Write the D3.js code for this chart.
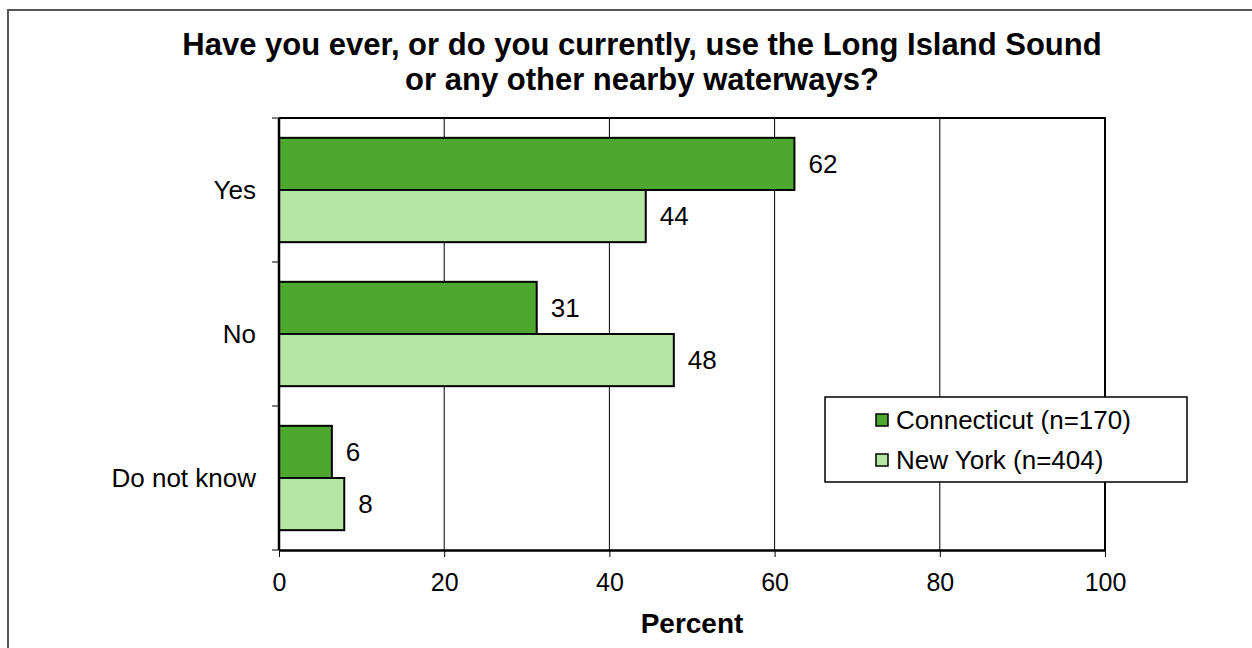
<!DOCTYPE html>
<html>
<head>
<meta charset="utf-8">
<script src="https://cdn.jsdelivr.net/npm/d3@7"></script>
<style>
  body { margin: 0; background: #fff; }
  text { font-family: "Liberation Sans", Arial, sans-serif; fill: #000; }
</style>
</head>
<body>
<div id="chart-area"></div>
<script>
const WIDTH = 1252;
const HEIGHT = 648;

// data
const categories = ["Yes", "No", "Do not know"];
const seriesNames = ["Connecticut (n=170)", "New York (n=404)"];
const connecticut = [62.4, 31.2, 6.4];
const newYork = [44.4, 47.8, 7.9];
const valueLabels = [["62", "31", "6"], ["44", "48", "8"]];
const xTicks = [0, 20, 40, 60, 80, 100];
const colors = ["#4ea72e", "#b4e5a3"];

const plot = { left: 279, right: 1105, top: 118, bottom: 550 };

let svg = d3.select("#chart-area").append("svg")
    .attr("width", WIDTH)
    .attr("height", HEIGHT);

// outer frame (runs off the right and bottom edge)
svg.append("path")
    .attr("d", `M8,${HEIGHT + 5} V10 H${WIDTH + 5}`)
    .attr("fill", "none")
    .attr("stroke", "#555")
    .attr("stroke-width", 2);

// title, two lines
const titleLines = ["Have you ever, or do you currently, use the Long Island Sound",
                    "or any other nearby waterways?"];
svg.append("g").selectAll("text")
    .data(titleLines)
    .enter().append("text")
    .attr("x", 642)
    .attr("y", (d, i) => 55 + i * 35)
    .attr("text-anchor", "middle")
    .style("font-size", "31px").style("font-weight", "bold")
    .text(d => d);

let x = d3.scaleLinear().domain([0, 100]).range([plot.left, plot.right]);
let y = d3.scaleBand().domain(categories).range([plot.top, plot.bottom]);
let inner = d3.scaleBand().domain([0, 1])
    .range([0, y.bandwidth()])
    .paddingOuter(0.38).paddingInner(0);

// gridlines
svg.append("g").selectAll("line")
    .data(xTicks.slice(1, -1))
    .enter().append("line")
    .attr("x1", d => x(d)).attr("x2", d => x(d))
    .attr("y1", plot.top).attr("y2", plot.bottom)
    .attr("stroke", "#000").attr("stroke-width", 1);

// bars
const series = [connecticut, newYork];
series.forEach((vals, s) => {
    svg.append("g").selectAll("rect")
        .data(vals)
        .enter().append("rect")
        .attr("x", x(0))
        .attr("y", (d, i) => y(categories[i]) + inner(s))
        .attr("width", d => x(d) - x(0))
        .attr("height", inner.bandwidth())
        .attr("fill", colors[s])
        .attr("stroke", "#000")
        .attr("stroke-width", 2);

    svg.append("g").selectAll("text")
        .data(vals)
        .enter().append("text")
        .attr("x", d => x(d) + 14)
        .attr("y", (d, i) => y(categories[i]) + inner(s) + inner.bandwidth() / 2)
        .attr("dy", "0.36em")
        .style("font-size", "26px")
        .text((d, i) => valueLabels[s][i]);
});

// plot frame: top and right
svg.append("path")
    .attr("d", `M${plot.left},${plot.top} H${plot.right} V${plot.bottom}`)
    .attr("fill", "none").attr("stroke", "#000").attr("stroke-width", 2);

// x axis
let xAxis = svg.append("g")
    .attr("transform", `translate(0,${plot.bottom})`)
    .call(d3.axisBottom(x).tickValues(xTicks).tickSize(7).tickSizeOuter(0).tickPadding(16));
xAxis.select(".domain").attr("stroke", "#000").attr("stroke-width", 2.5);
xAxis.selectAll(".tick line").attr("stroke", "#000");
xAxis.selectAll(".tick text")
    .style("font-size", "25px")
    .style("font-family", "'Liberation Sans', Arial, sans-serif")
    .attr("fill", "#000");

// y axis: ticks at band boundaries
let yAxisG = svg.append("g");
yAxisG.append("line")
    .attr("x1", plot.left).attr("x2", plot.left)
    .attr("y1", plot.top).attr("y2", plot.bottom)
    .attr("stroke", "#000").attr("stroke-width", 2.5);
let bounds = categories.map(c => y(c)).concat([plot.bottom]);
yAxisG.selectAll(".ytick")
    .data(bounds)
    .enter().append("line")
    .attr("class", "ytick")
    .attr("x1", plot.left - 7).attr("x2", plot.left)
    .attr("y1", d => d).attr("y2", d => d)
    .attr("stroke", "#000");
yAxisG.selectAll(".ylabel")
    .data(categories)
    .enter().append("text")
    .attr("class", "ylabel")
    .attr("x", 256)
    .attr("y", d => y(d) + y.bandwidth() / 2)
    .attr("dy", "0.36em")
    .attr("text-anchor", "end")
    .style("font-size", "26px")
    .text(d => d);

// axis title
svg.append("text")
    .attr("x", x(50)).attr("y", 633)
    .attr("text-anchor", "middle")
    .style("font-size", "28px").style("font-weight", "bold")
    .text("Percent");

// legend
let legend = svg.append("g");
legend.append("rect")
    .attr("x", 825).attr("y", 397)
    .attr("width", 362).attr("height", 85)
    .attr("fill", "#fff").attr("stroke", "#000").attr("stroke-width", 1.5);
seriesNames.forEach((name, i) => {
    legend.append("rect")
        .attr("x", 876).attr("y", 414 + i * 40)
        .attr("width", 12).attr("height", 12)
        .attr("fill", colors[i]).attr("stroke", "#000").attr("stroke-width", 1.5);
    legend.append("text")
        .attr("x", 896).attr("y", 420 + i * 40)
        .attr("dy", "0.36em")
        .style("font-size", "26px")
        .text(name);
});
</script>
</body>
</html>
